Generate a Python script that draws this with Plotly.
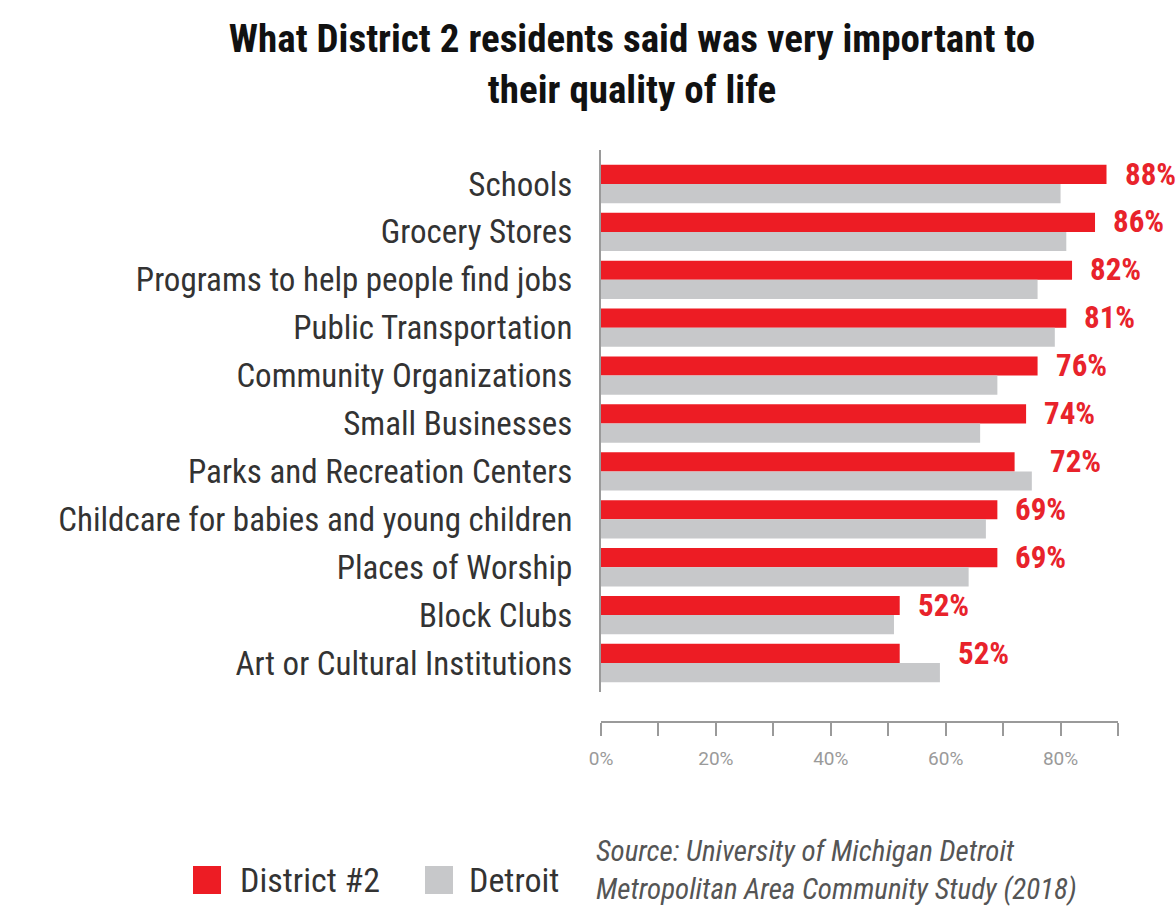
import plotly.graph_objects as go

# Survey results: share saying each item is "very important" to quality of life
categories = [
    "Schools",
    "Grocery Stores",
    "Programs to help people find jobs",
    "Public Transportation",
    "Community Organizations",
    "Small Businesses",
    "Parks and Recreation Centers",
    "Childcare for babies and young children",
    "Places of Worship",
    "Block Clubs",
    "Art or Cultural Institutions",
]
district2 = [88, 86, 82, 81, 76, 74, 72, 69, 69, 52, 52]
detroit = [80, 81, 76, 79, 69, 66, 75, 67, 64, 51, 59]

series_names = ["District #2", "Detroit"]
tick_values = [0, 10, 20, 30, 40, 50, 60, 70, 80, 90]
tick_labels = ["0%", "", "20%", "", "40%", "", "60%", "", "80%", ""]

RED = "#ED1C24"
GRAY = "#C7C8CA"
LABEL_RED = "#E8232B"
COND = "Roboto Condensed, Liberation Sans Narrow, DejaVu Sans Condensed, sans-serif"

fig = go.Figure()
fig.add_trace(go.Bar(y=categories, x=district2, orientation="h", name=series_names[0],
                     marker=dict(color=RED, line=dict(width=0))))
fig.add_trace(go.Bar(y=categories, x=detroit, orientation="h", name=series_names[1],
                     marker=dict(color=GRAY, line=dict(width=0))))

annotations = []
# value labels sit just past the longer of the two bars, level with the red bar
for cat, d2, dt in zip(categories, district2, detroit):
    annotations.append(dict(
        x=max(d2, dt), y=cat, xref="x", yref="y", text=f"<b>{d2}%</b>",
        showarrow=False, xanchor="left", yanchor="middle", xshift=16, yshift=10,
        font=dict(family=COND, size=31, color=LABEL_RED),
    ))

# legend swatches and names
legend_items = [(series_names[0], RED, 193, 238), (series_names[1], GRAY, 425, 467)]
shapes = []
for name, color, sx, tx in legend_items:
    shapes.append(dict(type="rect", xref="paper", yref="paper",
                       x0=(sx - 601) / 517, x1=(sx + 28 - 601) / 517,
                       y0=(722 - 894) / 572, y1=(722 - 866) / 572,
                       fillcolor=color, line=dict(width=0)))
    annotations.append(dict(x=(tx - 601) / 517, y=(722 - 880) / 572, xref="paper", yref="paper",
                            text=name, showarrow=False, xanchor="left", yanchor="middle",
                            font=dict(family=COND, size=34, color="#333333")))

# source note
annotations.append(dict(
    x=(594 - 601) / 517, y=(722 - 870) / 572, xref="paper", yref="paper",
    text="<i>Source: University of Michigan Detroit<br>Metropolitan Area Community Study (2018)</i>",
    showarrow=False, xanchor="left", yanchor="middle", align="left",
    font=dict(family=COND, size=29, color="#555555"),
))

fig.update_layout(
    width=1176, height=909,
    margin=dict(l=601, r=58, t=150, b=187),
    paper_bgcolor="white", plot_bgcolor="white",
    barmode="group", bargap=0.2, bargroupgap=0,
    showlegend=False,
    title=dict(
        text="<b>What District 2 residents said was very important to<br>their quality of life</b>",
        x=632 / 1176, xanchor="center", y=1 - 52 / 909, yanchor="middle",
        font=dict(family=COND, size=39, color="#111111"),
    ),
    xaxis=dict(
        range=[0, 90], anchor="free", position=0,
        tickvals=tick_values, ticktext=tick_labels,
        showgrid=False, zeroline=False,
        showline=True, linecolor="#9A9A9A", linewidth=2,
        ticks="outside", ticklen=13, tickwidth=2, tickcolor="#9A9A9A",
        ticklabelstandoff=6,
        tickfont=dict(family="Roboto, sans-serif", size=19, color="#9A9A9A"),
    ),
    yaxis=dict(
        domain=[30 / 572, 1],
        range=[10.605, -0.71],
        showgrid=False, zeroline=False,
        showline=True, linecolor="#9A9A9A", linewidth=2,
        ticks="", ticklabelstandoff=20,
        tickfont=dict(family=COND, size=33, color="#333333"),
    ),
    annotations=annotations,
    shapes=shapes,
)

fig.write_html("out.html")
